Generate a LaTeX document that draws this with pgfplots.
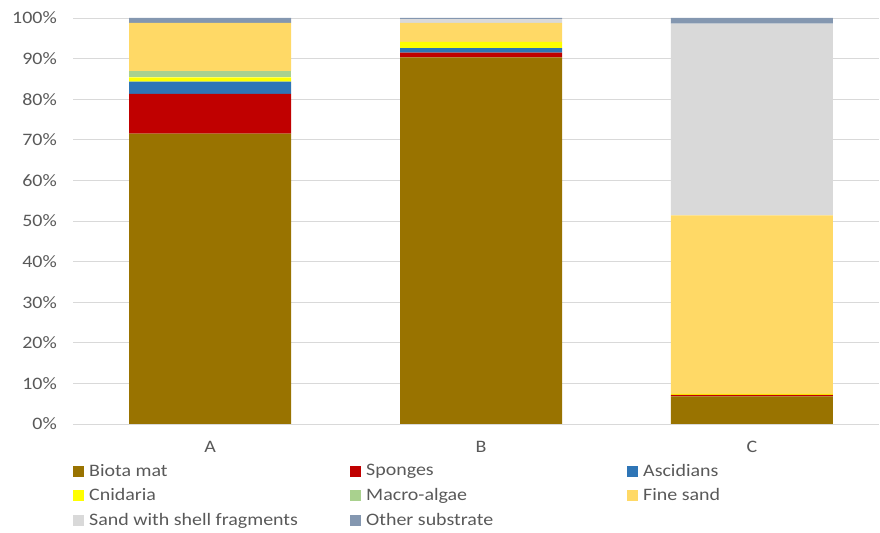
\documentclass[border=0pt]{standalone}
\usepackage{fontspec}
\usepackage{pgfplots}
\pgfplotsset{compat=1.18}
\newfontfamily\legfont[FakeStretch=1.14]{Carlito}
\definecolor{cBiota}{HTML}{997300}
\definecolor{cSpong}{HTML}{C00000}
\definecolor{cAsc}{HTML}{2E75B6}
\definecolor{cCnid}{HTML}{FFFF00}
\definecolor{cMacro}{HTML}{A9D18E}
\definecolor{cFine}{HTML}{FFD966}
\definecolor{cShell}{HTML}{D9D9D9}
\definecolor{cOther}{HTML}{8497B0}
\definecolor{txt}{HTML}{595959}
\definecolor{grd}{HTML}{D9D9D9}
\newcommand{\lt}[1]{\makebox[259bp][l]{#1}}
\begin{document}
\begin{tikzpicture}
\path[use as bounding box] (0,0) rectangle (880bp,533bp);
\begin{axis}[
  at={(73bp,109bp)}, anchor=south west,
  scale only axis, width=806bp, height=406bp,
  ybar stacked, bar width=162bp,
  xmin=-0.506, xmax=2.469, ymin=0, ymax=100,
  xtick={0,1,2}, xticklabels={A,B,C},
  ytick={0,10,...,100},
  yticklabels={0\%,10\%,20\%,30\%,40\%,50\%,60\%,70\%,80\%,90\%,100\%},
  axis line style={draw=none},
  major tick style={draw=none},
  ymajorgrids, grid style={grd, line width=0.8bp},
  yticklabel style={font=\legfont\fontsize{17.5bp}{20bp}\selectfont, text=txt, anchor=east, inner sep=0pt, xshift=-16bp},
  xticklabel style={font=\legfont\fontsize{17.5bp}{20bp}\selectfont, text=txt, anchor=north, inner sep=0pt, yshift=-17bp},
  legend columns=3,
  legend style={at={(0,0)}, anchor=north west, xshift=0bp, yshift=-38bp, draw=none, fill=none,
    font=\legfont\fontsize{17.5bp}{20bp}\selectfont, text=txt,
    row sep=7bp, inner sep=0pt,
    nodes={inner sep=2bp},
    /tikz/every odd column/.append style={column sep=3bp}},
  legend cell align=left,
  legend image code/.code={\fill[#1] (0bp,-5.5bp) rectangle (11bp,5.5bp);},
]
\addplot[fill=cBiota, draw=none] coordinates {(0,71.5) (1,90.3) (2,6.8)};
\addplot[fill=cSpong, draw=none] coordinates {(0,9.8) (1,1.2) (2,0.4)};
\addplot[fill=cAsc, draw=none] coordinates {(0,3.0) (1,1.1) (2,0)};
\addplot[fill=cCnid, draw=none] coordinates {(0,1.1) (1,1.5) (2,0.2)};
\addplot[fill=cMacro, draw=none] coordinates {(0,1.5) (1,0) (2,0)};
\addplot[fill=cFine, draw=none] coordinates {(0,11.9) (1,4.7) (2,44.0)};
\addplot[fill=cShell, draw=none] coordinates {(0,0) (1,0.9) (2,47.2)};
\addplot[fill=cOther, draw=none] coordinates {(0,1.2) (1,0.3) (2,1.4)};
\legend{\lt{Biota mat},\lt{Sponges},\lt{Ascidians},\lt{Cnidaria},\lt{Macro-algae},\lt{Fine sand},\lt{Sand with shell fragments},\lt{Other substrate}}
\end{axis}
\end{tikzpicture}
\end{document}
